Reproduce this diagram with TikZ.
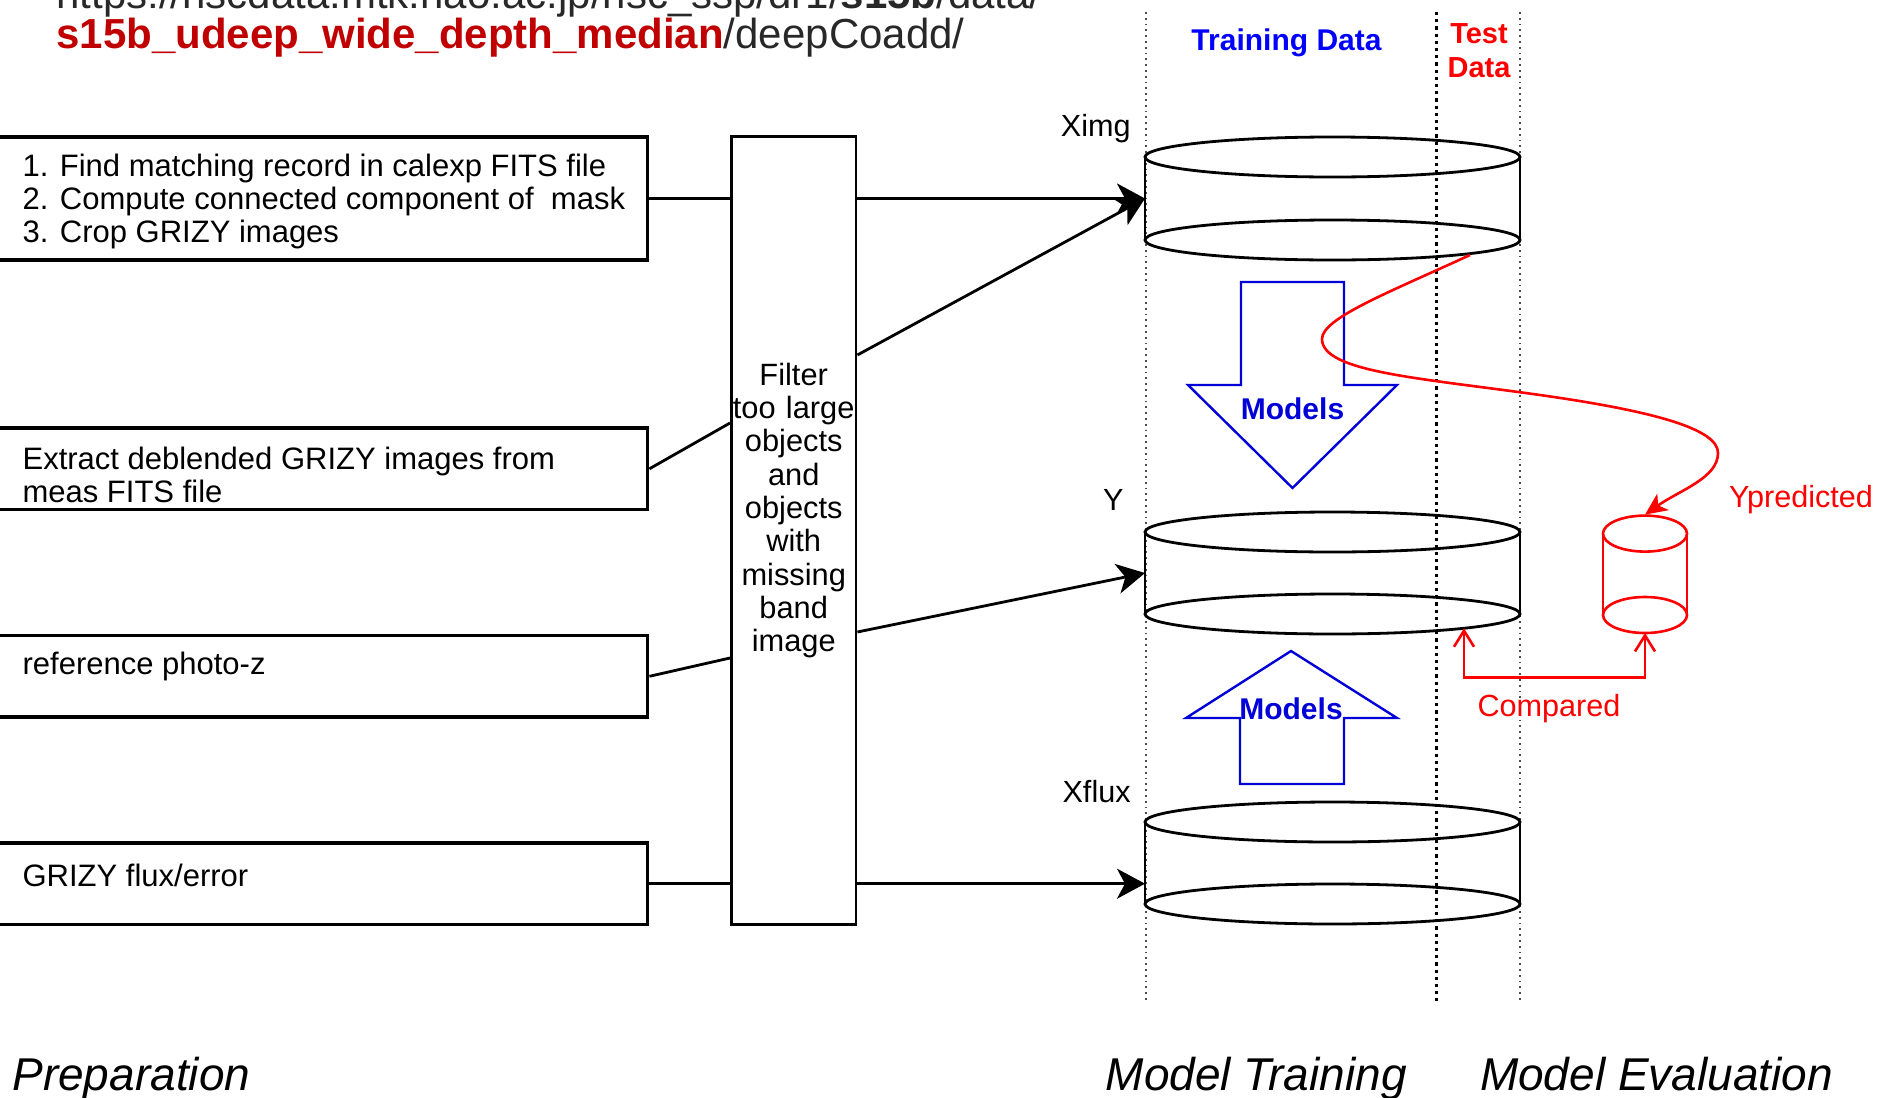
\documentclass[tikz,border=0pt]{standalone}
\usepackage{fontspec}
\setmainfont{Liberation Sans}
\usetikzlibrary{arrows.meta, calc, positioning}

\definecolor{urlred}{RGB}{192,0,0}
\definecolor{urlgray}{RGB}{40,40,40}
\definecolor{modelblue}{RGB}{0,0,215}
\definecolor{trainblue}{RGB}{0,0,255}
\definecolor{evalred}{RGB}{255,0,0}

\begin{document}
\begin{tikzpicture}[x=0.5pt, y=-0.5pt]
	\tikzstyle{prep} = [rectangle, draw=black, line width=1.8pt, minimum width=328.8pt, inner sep=0pt]
	\tikzstyle{preptext} = [inner sep=0pt, align=left, font=\fontsize{15.5}{16.7}\selectfont]
	\tikzstyle{filterbox} = [rectangle, draw=black, line width=1.4pt, minimum width=62.3pt, minimum height=393.9pt, inner sep=0pt]
	\tikzstyle{filtertext} = [inner sep=0pt, text width=64pt, align=center, font=\fontsize{15.4}{16.65}\selectfont]
	\tikzstyle{store} = [rectangle, minimum width=187.5pt, inner sep=0pt, outer sep=0pt]
	\tikzstyle{dbline} = [line width=1.4pt]
	\tikzstyle{storelabel} = [anchor=base east, inner sep=0pt, font=\fontsize{15.3}{17}\selectfont]
	\tikzstyle{link} = [line width=1.4pt]
	\tikzstyle{arrow} = [line width=1.4pt, -{Stealth[length=14pt, width=15pt, inset=4pt]}]
	\tikzstyle{modelarrow} = [draw=modelblue, line width=1.2pt, line join=miter]
	\tikzstyle{modeltext} = [inner sep=0pt, text=modelblue, font=\fontsize{15}{17}\selectfont\bfseries]
	\tikzstyle{evalline} = [draw=evalred, line width=1.3pt]
	\tikzstyle{evaltext} = [inner sep=0pt, text=evalred, font=\fontsize{15.3}{17}\selectfont]
	\tikzstyle{predarrow} = [evalred, line width=1.3pt, -{Stealth[length=11pt, width=10pt, inset=3pt]}]
	\tikzstyle{cmparrow} = [evalred, line width=1.3pt, {Straight Barb[length=8pt, width=10pt]}-{Straight Barb[length=8pt, width=10pt]}]
	\tikzstyle{phase} = [anchor=base west, inner sep=0pt, font=\fontsize{23}{27}\selectfont\itshape]
	\useasboundingbox (0,0) rectangle (1880,1098);

	% data source path
	\node (urlTop) [anchor=base west, inner sep=0pt, text=urlgray, font=\fontsize{21}{24}\selectfont] at (56,8) {https://hscdata.mtk.nao.ac.jp/hsc\_ssp/dr1/\textbf{s15b}/data/};
	\node (urlDir) [anchor=base west, inner sep=0pt, text=urlgray, font=\fontsize{21}{24}\selectfont] at (56,48) {\textcolor{urlred}{\textbf{s15b\_udeep\_wide\_depth\_median}}/deepCoadd/};

	% preparation boxes
	\node (cutout) [prep, minimum height=61.75pt] at (318.8,198.5) {};
	\node (deblend) [prep, minimum height=40.8pt] at (318.8,468.8) {};
	\node (photoz) [prep, minimum height=40.75pt] at (318.8,676.3) {};
	\node (flux) [prep, minimum height=40.7pt] at (318.8,883.7) {};
	\node (cutoutText) [preptext, right=17pt of cutout.west, yshift=-1.5pt] {1. Find matching record in calexp FITS file\\2. Compute connected component of~ mask\\3. Crop GRIZY images};
	\node (deblendText) [preptext, right=17pt of deblend.west, yshift=-3.2pt] {Extract deblended GRIZY images from\\meas FITS file};
	\node (photozText) [preptext, right=17pt of photoz.west, yshift=4.8pt] {reference photo-z};
	\node (fluxText) [preptext, right=17pt of flux.west, yshift=4.3pt] {GRIZY flux/error};

	\node (filter) [filterbox] at (793.7,530.5) {};
	\node (filterText) [filtertext] at ([yshift=10pt]filter.center) {Filter\\too large\\objects\\and\\objects\\with\\missing\\band\\image};

	% column separators
	\foreach \x/\w/\c in {1146/0.9pt/black!70, 1436.4/1.6pt/black, 1520/0.9pt/black!70}
		\draw [line width=\w, color=\c, dash pattern=on \w off 2pt] (\x,12) -- (\x,1001);

	% data stores
	\node (ximg) [store, minimum height=41.5pt] at (1332.5,198.5) {};
	\node (yy) [store, minimum height=41pt] at (1332.5,573) {};
	\node (xflux) [store, minimum height=41pt] at (1332.5,863) {};
	\foreach \db in {ximg, yy, xflux} {
		\draw [dbline] (\db.north) ellipse [x radius=93.75pt, y radius=10pt];
		\draw [dbline] (\db.south) ellipse [x radius=93.75pt, y radius=10pt];
		\draw [dbline] (\db.north west) -- (\db.south west) (\db.north east) -- (\db.south east);
	}
	\node (ximgLbl) [storelabel] at ([shift={(-14,-21)}]ximg.north west) {Ximg};
	\node (yyLbl) [storelabel] at ([shift={(-21,-22)}]yy.north west) {Y};
	\node (xfluxLbl) [storelabel] at ([shift={(-14,-20)}]xflux.north west) {Xflux};

	\draw [link] (cutout.east) -- (cutout.east -| filter.west);
	\draw [link] (deblend.east) -- ($(filter.west)+(0,-107.5)$);
	\draw [link] (photoz.east) -- ($(filter.west)+(0,127.5)$);
	\draw [link] (flux.east) -- (flux.east -| filter.west);
	\draw [arrow] (cutout.east -| filter.east) -- (ximg.west);
	\draw [arrow] ($(filter.east)+(0,-175.5)$) -- (ximg.west);
	\draw [arrow] ($(filter.east)+(0,101.5)$) -- (yy.west);
	\draw [arrow] (flux.east -| filter.east) -- (flux.east -| xflux.west);

	% headers
	\node (trainLbl) [inner sep=0pt, text=trainblue, font=\fontsize{15}{17}\selectfont\bfseries] at (1286.5,43) {Training Data};
	\node (testLbl) [inner sep=0pt, align=center, text=evalred, font=\fontsize{14.5}{17}\selectfont\bfseries] at (1479,51) {Test\\Data};

	% model arrows
	\draw [modelarrow] (1241,282) -- (1344,282) -- (1344,385) -- (1397,385) -- (1292.5,488) -- (1188,385) -- (1241,385) -- cycle;
	\draw [modelarrow] (1240,784) -- (1344,784) -- (1344,718) -- (1397,718) -- (1291,651) -- (1186,718) -- (1240,718) -- cycle;
	\node (modelsDown) [modeltext] at (1292.5,409) {Models};
	\node (modelsUp) [modeltext] at (1291,708.6) {Models};

	% evaluation
	\node (ypred) [rectangle, minimum width=42pt, minimum height=40.7pt, inner sep=0pt, outer sep=0pt] at (1645,574.3) {};
	\draw [evalline] (ypred.north) ellipse [x radius=21pt, y radius=9pt];
	\draw [evalline] (ypred.south) ellipse [x radius=21pt, y radius=9pt];
	\draw [evalline] (ypred.north west) -- (ypred.south west) (ypred.north east) -- (ypred.south east);
	\coordinate (ximgOut) at ($(ximg.south)+(137.5,15)$);
	\coordinate (ypredTop) at ($(ypred.north)+(0,-19)$);
	\coordinate (ycmp) at ($(yy.south)+(131.5,14.3)$);
	\coordinate (ypredBot) at ($(ypred.south)+(0,18)$);
	\draw [predarrow] (ximgOut) .. controls (1390,292) and (1322,318) .. (1322,339)
		.. controls (1322,372) and (1420,378) .. (1540,395)
		.. controls (1660,412) and (1718,430) .. (1718,453)
		.. controls (1718,478) and (1680,490) .. (ypredTop);
	\draw [cmparrow] (ycmp) -- ++(0,49) -| (ypredBot);
	\node (ypredLbl) [evaltext] at (1801,500) {Ypredicted};
	\node (cmpLbl) [evaltext] at (1549,708.6) {Compared};

	% phases
	\node (prepPhase) [phase] at (12,1090) {Preparation};
	\node (trainPhase) [phase] at (1105.5,1090) {Model Training};
	\node (evalPhase) [phase] at (1479.6,1090) {Model Evaluation};
\end{tikzpicture}
\end{document}
